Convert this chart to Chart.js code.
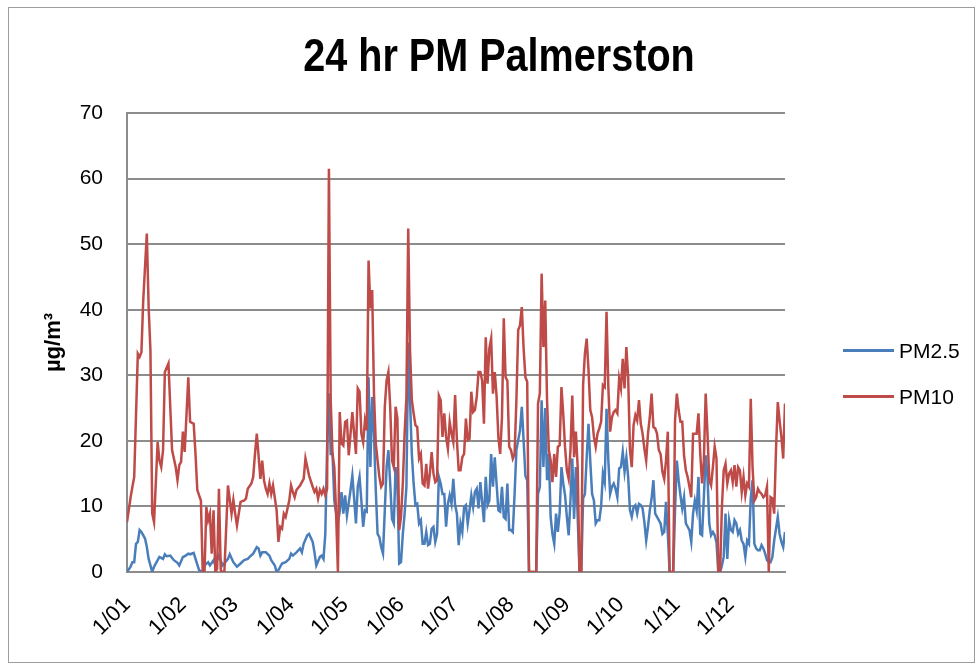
<!DOCTYPE html>
<html>
<head>
<meta charset="utf-8">
<title>24 hr PM Palmerston</title>
<script src="https://cdn.jsdelivr.net/npm/chart.js@4.4.1/dist/chart.umd.min.js"></script>
<style>
  html, body { margin: 0; padding: 0; background: #fff; }
  body { width: 977px; height: 664px; position: relative; overflow: hidden; font-family: "Liberation Sans", Arial, sans-serif; }
  #chart { position: absolute; left: 0; top: 0; }
  #frame { position: absolute; left: 8px; top: 7px; width: 967px; height: 656px; box-sizing: border-box; border: 1px solid #9d9d9d; pointer-events: none; }
  #title { position: absolute; left: 0; top: 37px; width: 998px; text-align: center; font-weight: bold; font-size: 39.6px; line-height: 40px; transform: scaleY(1.15); transform-origin: 50% 34px; color: #000; }
  .legend-line { position: absolute; left: 843px; width: 51px; height: 3px; }
  .legend-text { position: absolute; left: 899px; font-size: 21px; line-height: 24px; color: #000; }
</style>
</head>
<body>
<canvas id="chart" width="977" height="664"></canvas>
<div id="frame"></div>
<div id="title">24 hr PM Palmerston</div>
<div id="legend"></div>
<script>
// month ticks (leap year, day index from 1 Jan)
const monthStarts = [0, 31, 60, 91, 121, 152, 182, 213, 244, 274, 305, 335];
const monthLabels = ["1/01", "1/02", "1/03", "1/04", "1/05", "1/06", "1/07", "1/08", "1/09", "1/10", "1/11", "1/12"];

const seriesNames = ["PM2.5", "PM10"];
const seriesColors = ["#4a7ebb", "#be4b48"];
const yTitle = "µg/m³";

const pm25Days = [
  0, 2, 3, 4, 5, 6, 7, 8, 10, 11, 12, 13, 14, 15, 17, 18, 20, 21, 22, 24, 26, 28, 29, 31, 32, 34, 35, 37, 38, 40,
  42, 43, 45, 46, 48, 49, 50, 51, 53, 54, 56, 57, 59, 61, 63, 65, 67, 68, 70, 72, 73, 74, 75, 77, 79, 80, 82, 83, 84, 86,
  88, 90, 91, 92, 94, 96, 97, 98, 100, 101, 103, 104, 105, 107, 108, 109, 110, 111, 112, 113, 114, 115, 116, 117, 118, 119, 120, 121, 122, 124,
  125, 126, 127, 128, 129, 130, 131, 132, 133, 134, 135, 136, 137, 138, 139, 140, 141, 142, 143, 144, 145, 146, 147, 148, 149, 150, 151, 152, 153, 154,
  155, 156, 157, 158, 159, 160, 161, 162, 163, 164, 165, 166, 167, 168, 169, 170, 171, 172, 173, 174, 175, 176, 177, 178, 179, 180, 181, 182, 183, 184,
  185, 186, 187, 188, 189, 190, 191, 192, 193, 194, 195, 196, 197, 198, 199, 200, 201, 202, 203, 204, 205, 206, 207, 208, 209, 210, 211, 212, 213, 214,
  215, 216, 218, 219, 220, 221, 222, 223, 224, 225, 226, 227, 228, 229, 230, 231, 232, 233, 234, 235, 236, 237, 238, 239, 240, 241, 242, 243, 244, 245,
  246, 247, 248, 249, 250, 251, 252, 253, 254, 255, 256, 257, 258, 259, 260, 261, 262, 263, 264, 265, 266, 267, 268, 269, 270, 271, 272, 273, 274, 275,
  276, 277, 278, 279, 280, 281, 282, 283, 284, 285, 286, 287, 288, 289, 290, 291, 292, 293, 294, 295, 296, 297, 298, 299, 300, 301, 302, 303, 304, 305,
  306, 307, 308, 309, 310, 311, 312, 313, 314, 315, 316, 317, 318, 319, 320, 321, 322, 323, 324, 325, 326, 327, 328, 329, 330, 331, 332, 333, 334, 335,
  336, 337, 338, 339, 340, 341, 342, 343, 344, 345, 346, 347, 348, 349, 350, 351, 352, 353, 354, 355, 356, 357, 358, 359, 360, 361, 362, 363, 364, 365,
];
const pm25Values = [
  0, 0.8, 1.5, 1.5, 4.3, 4.6, 6.4, 6.1, 5.1, 3.8, 2, 1, 0, 0.8, 1.8, 2.3, 2, 2.7, 2.4, 2.5, 1.8, 1.4, 1, 2.3, 2.4, 2.8, 2.7, 2.9, 2, 0.3,
  0, 1, 1.5, 1, 1.8, 1, 1.8, 2.5, 1, 1.3, 2, 2.7, 1.5, 0.8, 1.3, 1.8, 2, 2.3, 2.8, 3.8, 3.6, 2.5, 3, 3, 2.5, 1.8, 1, 0, 0.3, 1.3,
  1.5, 2, 2.8, 2.5, 3, 3.6, 3, 4.3, 5.6, 5.8, 4.6, 3, 1, 2.3, 2.5, 2, 5.8, 19, 27.2, 18, 18, 10.9, 8.9, 7.6, 9.2, 12.2, 8.9, 11.7, 8.6, 12.5,
  14.7, 11.2, 7.4, 13, 14.5, 10.9, 6.9, 9.4, 9.2, 29.7, 16, 26.7, 21.1, 12.5, 5.8, 5.3, 3.8, 2.8, 9.4, 16, 18.6, 13.5, 8.1, 7.4, 16, 13, 1.3, 1.5, 5.8, 8.9,
  13, 35, 26.2, 18, 13.5, 10.2, 10.4, 7.4, 7.9, 4.3, 4.3, 6.1, 4.1, 4.3, 6.6, 6.9, 4.6, 5.8, 14.5, 13.5, 11.9, 11.9, 6.9, 10.4, 11.7, 10.4, 14.2, 10.2, 8.9, 4.1,
  7.4, 6.1, 9.9, 10.2, 7.4, 9.4, 11.7, 9.9, 12.2, 12.7, 9.7, 13.7, 10.7, 7.6, 14.5, 10.2, 10.9, 18, 13, 17.5, 13.5, 9.4, 9.2, 13, 8.4, 8.1, 13.5, 6.4, 6.4, 6.1,
  11.9, 18.6, 21.6, 25.2, 20.1, 14.7, 14, 0, 0, 0, 0, 0, 11.9, 13, 26.2, 16, 25, 14, 18, 8.4, 5.8, 4.3, 8.9, 6.1, 9, 16, 13.5, 11.7, 8.4, 5.6,
  10.9, 17.3, 8.1, 16, 8.4, 0, 0, 11.2, 11.9, 17.5, 22.6, 16.8, 11.9, 10.9, 7.4, 7.9, 7.9, 10, 15, 13.7, 24.9, 17, 11.9, 13, 13.5, 12.7, 11.4, 15.8, 16, 18.3,
  15.3, 17.5, 14.5, 9.4, 8.4, 9.9, 10.2, 8.9, 10.4, 10.2, 9.7, 7.6, 4.8, 6.9, 9.4, 11.2, 14, 8.9, 8.4, 7.9, 7.4, 5.8, 6.1, 10.7, 5.8, 0, 0, 0, 9.4, 17,
  14, 11.7, 9.7, 11.4, 7.4, 6.9, 6.4, 4.6, 8.9, 10.9, 9.4, 14.5, 5.8, 5.6, 11.4, 17.8, 14.5, 7.4, 5.6, 6.1, 5.6, 4.5, 0, 0, 1, 2.3, 8.9, 2, 7.9, 6.4,
  6.1, 7.9, 7.4, 5.8, 6.4, 4.8, 4.3, 2.3, 4.8, 4.3, 11.2, 14, 4.3, 3.6, 3.3, 3.3, 4.1, 3.6, 2.8, 1.8, 1.5, 1.5, 2.3, 4.8, 6.6, 8.4, 5.8, 4.6, 3.8, 6.1,
];

const pm10Days = [
  0, 2, 3, 4, 6, 7, 8, 9, 11, 12, 13, 14, 15, 17, 18, 19, 20, 21, 23, 25, 27, 28, 29, 30, 31, 32, 34, 35, 37, 38,
  39, 41, 42, 43, 44, 45, 46, 47, 48, 49, 50, 51, 52, 53, 54, 56, 58, 59, 60, 61, 63, 65, 66, 67, 69, 70, 71, 72, 74, 75,
  76, 77, 78, 79, 80, 81, 83, 84, 85, 86, 87, 88, 90, 91, 92, 93, 94, 96, 98, 99, 100, 101, 103, 104, 105, 106, 107, 108, 109, 110,
  111, 112, 113, 114, 115, 116, 117, 118, 119, 120, 121, 122, 123, 124, 125, 126, 127, 128, 129, 130, 131, 132, 133, 134, 135, 136, 137, 138, 139, 140,
  141, 142, 143, 144, 145, 146, 147, 148, 149, 150, 151, 152, 153, 154, 155, 156, 157, 158, 159, 160, 161, 162, 163, 164, 165, 166, 167, 168, 169, 170,
  171, 172, 173, 174, 175, 176, 177, 178, 179, 180, 181, 182, 183, 184, 185, 186, 187, 188, 189, 190, 191, 192, 193, 194, 195, 196, 197, 198, 199, 200,
  201, 202, 203, 204, 205, 206, 207, 208, 209, 210, 211, 212, 213, 214, 215, 216, 217, 218, 219, 220, 221, 222, 223, 224, 225, 226, 227, 228, 229, 230,
  231, 232, 233, 234, 235, 236, 237, 238, 239, 240, 241, 242, 243, 244, 245, 246, 247, 248, 249, 250, 251, 252, 253, 254, 255, 256, 257, 258, 259, 260,
  261, 262, 263, 264, 265, 266, 267, 268, 269, 270, 271, 272, 273, 274, 275, 276, 277, 278, 279, 280, 281, 282, 283, 284, 285, 286, 287, 288, 289, 290,
  291, 292, 293, 294, 295, 296, 297, 298, 299, 300, 301, 302, 303, 304, 305, 306, 307, 308, 309, 310, 311, 312, 313, 314, 315, 316, 317, 318, 319, 320,
  321, 322, 323, 324, 325, 326, 327, 328, 329, 330, 331, 332, 333, 334, 335, 336, 337, 338, 339, 340, 341, 342, 343, 344, 345, 346, 347, 348, 349, 350,
  351, 352, 353, 354, 355, 356, 357, 358, 359, 360, 361, 362, 363, 364, 365,
];
const pm10Values = [
  7.6, 11.4, 13, 14.5, 33.3, 32.8, 33.5, 41.4, 51.6, 40.4, 33.8, 8.9, 7.6, 19.8, 17, 16, 18.6, 30.5, 31.8, 18.6, 16, 14, 16.3, 16.8, 21.4, 18.3, 29.7, 22.9, 22.6, 18,
  12.5, 10.9, 0, 0, 9.9, 7.9, 8.9, 2.8, 9.4, 0, 0.5, 12.7, 0.3, 0, 0, 13.2, 8.9, 11, 8.9, 7.1, 10.7, 10.9, 11.2, 12.7, 13.5, 14.5, 18, 21.1, 14.2, 17,
  14, 12.7, 11.9, 13.5, 11.9, 13.2, 9.4, 4.6, 6.9, 6.6, 8.9, 8.4, 10.9, 13.2, 12.2, 11.4, 12.5, 13.2, 14.2, 17.3, 16, 14.7, 13, 12.2, 12.7, 11.2, 12.5, 11.9, 12.7, 11.7,
  12.7, 61.5, 26.2, 18, 16, 8.9, 0, 24.4, 19.6, 19.3, 22.9, 23.1, 17.8, 21.1, 24.4, 21.1, 18, 28, 27.5, 21.1, 19.8, 23.1, 21.6, 47.5, 40.2, 43, 27.2, 19.6, 17, 14.5,
  13, 13.5, 25.2, 29.2, 30.5, 25.2, 17, 16, 25.2, 23.4, 6.4, 8.4, 13.5, 21.1, 26.7, 52.4, 33.8, 26.2, 24.2, 22.4, 22.1, 17.3, 18, 13.5, 13.2, 16.5, 12.7, 15, 18.3, 15,
  13.7, 14, 26.9, 26.2, 20.6, 24.2, 20.6, 18.8, 22.9, 21.1, 19.8, 27, 20.1, 15.5, 15.5, 17.5, 18, 23.4, 20.1, 20.3, 27.5, 24.4, 24.7, 26.7, 30.5, 30.5, 29.2, 22.6, 35.8, 28.7,
  34.1, 35.6, 27.2, 30.5, 26.9, 20.6, 18, 23.6, 38.7, 29.7, 29.2, 19.1, 18.6, 17.3, 18, 26.2, 36.9, 37.6, 40.4, 34.1, 29.7, 29, 0, 0, 0, 0, 0, 25.7, 27.2, 45.5,
  34.3, 41.4, 26.2, 18.6, 17, 13.7, 18, 14.5, 19.1, 19.3, 28.2, 24, 19, 15.5, 14.2, 18.6, 26.9, 17.5, 21.4, 16, 0, 0, 28.5, 33.3, 35.6, 30.8, 24.7, 23.6, 20.6, 19.1,
  21.1, 21.9, 22.9, 28.5, 28.2, 39.7, 28.2, 21.4, 23.6, 24.4, 24.7, 24.2, 29.5, 28, 32.5, 28, 34.3, 29.7, 18.6, 16, 22.4, 23.9, 23.1, 26.2, 22.6, 21.1, 18.8, 17, 21.1, 23.6,
  27.2, 22.1, 21.9, 21.1, 18.6, 18, 15.3, 14.2, 17, 21.4, 0, 0, 0, 23.1, 27.2, 24.7, 22.9, 22.9, 17.8, 15.5, 14.5, 13, 11.4, 21.1, 21.1, 21.1, 24.2, 18, 13.5, 17,
  27.2, 21.1, 14, 13.2, 16, 19.1, 17.3, 0, 0, 9.9, 15.5, 16.5, 13.5, 15, 15.5, 13.7, 16.3, 13, 16, 15.5, 12.2, 14.5, 11.7, 13.5, 13, 26.4, 16, 10.9, 11.4, 12.7,
  12.2, 11.9, 11.4, 11.7, 13, 0, 11.4, 11.2, 8.9, 18.6, 25.9, 23.1, 20.6, 17.3, 25.7,
];

const GRID = "#8c8c8c";
const FONT = "'Liberation Sans', Arial, sans-serif";
Chart.defaults.font.family = FONT;
Chart.defaults.color = "#000";

function toPoints(days, values) {
  return days.map((day, i) => ({ x: day, y: values[i] }));
}

const chart = new Chart(document.getElementById("chart"), {
  type: "line",
  data: {
    datasets: [
      { label: seriesNames[0], data: toPoints(pm25Days, pm25Values), borderColor: seriesColors[0], backgroundColor: seriesColors[0], borderWidth: 2.5, pointRadius: 0, tension: 0, order: 1 },
      { label: seriesNames[1], data: toPoints(pm10Days, pm10Values), borderColor: seriesColors[1], backgroundColor: seriesColors[1], borderWidth: 2.5, pointRadius: 0, tension: 0, order: 0 },
    ],
  },
  options: {
    responsive: false,
    animation: false,
    devicePixelRatio: 1,
    layout: { padding: { top: 113, right: 192, bottom: 0, left: 0 } },
    plugins: {
      legend: { display: false },
      title: { display: false },
      tooltip: { enabled: false },
    },
    scales: {
      x: {
        type: "linear",
        min: 0,
        max: 365,
        grid: { display: false, drawTicks: false },
        border: { display: true, color: GRID, width: 2 },
        afterBuildTicks: (scale) => { scale.ticks = monthStarts.map((value) => ({ value })); },
        afterFit: (scale) => { scale.height = 92; },
        ticks: {
          autoSkip: false,
          minRotation: 45,
          maxRotation: 45,
          padding: 20,
          color: "#000",
          font: { size: 22 },
          callback: (value) => monthLabels[monthStarts.indexOf(value)],
        },
      },
      y: {
        min: 0,
        max: 70,
        grid: { color: GRID, lineWidth: 2, drawTicks: false },
        border: { color: GRID, width: 2 },
        afterFit: (scale) => { scale.width = 127; },
        ticks: { stepSize: 10, padding: 24, color: "#000", font: { size: 21 } },
        title: { display: true, text: yTitle, color: "#000", font: { size: 22, weight: "bold" }, padding: { top: 41, bottom: 0 } },
      },
    },
  },
});

// legend drawn in html, from the chart's own datasets
const legendTops = [339, 385];
document.getElementById("legend").innerHTML = chart.data.datasets.map((ds, i) => `
  <div class="legend-line" style="top:${legendTops[i] + 10}px;background:${ds.borderColor}"></div>
  <div class="legend-text" style="top:${legendTops[i]}px">${ds.label}</div>
`).join("");
</script>
</body>
</html>
